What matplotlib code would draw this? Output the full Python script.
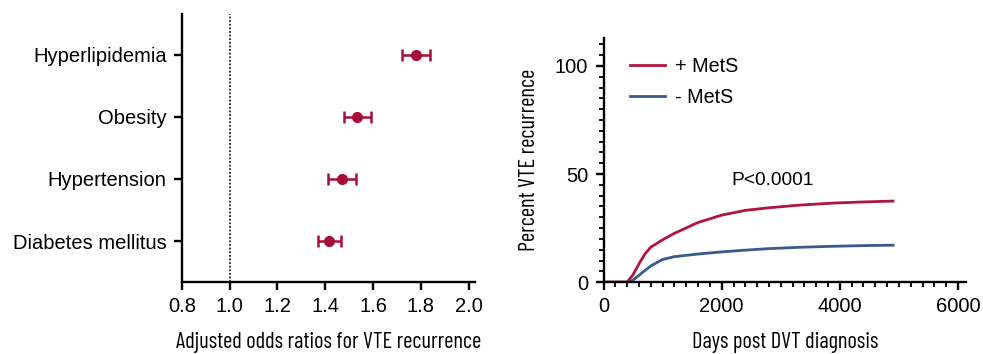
import matplotlib.pyplot as plt
from matplotlib.ticker import MultipleLocator

# Forest plot data (adjusted odds ratios with 95% CI)
factors = ['Diabetes mellitus', 'Hypertension', 'Obesity', 'Hyperlipidemia']
odds = [1.415, 1.47, 1.535, 1.78]
ci_low = [1.37, 1.41, 1.48, 1.72]
ci_high = [1.465, 1.53, 1.59, 1.84]

# Cumulative VTE recurrence curves (days, percent)
days_pos = [0, 400, 500, 600, 700, 800, 1000, 1200, 1600, 2000, 2400, 2800, 3300, 3900, 4400, 4900]
pct_pos = [0, 0, 3.5, 8.5, 13.0, 16.2, 19.6, 22.6, 27.6, 31.0, 33.2, 34.4, 35.6, 36.6, 37.1, 37.5]
days_neg = [0, 450, 550, 650, 800, 1000, 1200, 1600, 2000, 2400, 2800, 3300, 3900, 4400, 4900]
pct_neg = [0, 0, 2.0, 4.3, 7.5, 10.5, 11.8, 13.0, 14.0, 14.8, 15.5, 16.1, 16.6, 16.9, 17.1]

red = '#A80D3A'
red_line = '#B0153F'
blue = '#3A5A8C'

plt.rcParams['font.family'] = ['Liberation Sans', 'DejaVu Sans']
label_font = dict(family=['Barlow Condensed', 'Roboto Condensed', 'Archivo Narrow',
                          'Liberation Sans'], fontsize=16.2)

fig = plt.figure(figsize=(9.83, 3.54), dpi=100)
ax1 = fig.add_axes([0.185, 0.203, 0.298, 0.757])
ax2 = fig.add_axes([0.614, 0.203, 0.369, 0.690])

# --- left: odds ratios ---
ypos = list(range(1, len(factors) + 1))
xerr = [[o - l for o, l in zip(odds, ci_low)], [h - o for o, h in zip(odds, ci_high)]]
ax1.errorbar(odds, ypos, xerr=xerr, fmt='o', color=red, ecolor=red,
             markersize=7, elinewidth=1.8, capsize=4, capthick=1.8)
ax1.axvline(1.0, color='#222222', linestyle=(0, (1, 1)), linewidth=1.3)
ax1.set_xlim(0.8, 2.026)
ax1.set_ylim(0.34, 4.65)
ax1.set_xticks([0.8, 1.0, 1.2, 1.4, 1.6, 1.8, 2.0])
ax1.set_yticks(ypos)
ax1.set_yticklabels(factors)
ax1.set_xlabel('Adjusted odds ratios for VTE recurrence', labelpad=11, **label_font)

# --- right: recurrence curves ---
ax2.plot(days_pos, pct_pos, color=red_line, linewidth=2, label='+ MetS')
ax2.plot(days_neg, pct_neg, color=blue, linewidth=2, label='- MetS')
ax2.set_xlim(0, 6140)
ax2.set_ylim(0, 113)
ax2.set_xticks([0, 2000, 4000, 6000])
ax2.set_yticks([0, 50, 100])
ax2.xaxis.set_minor_locator(MultipleLocator(200))
ax2.yaxis.set_minor_locator(MultipleLocator(5))
ax2.text(2170, 47, 'P<0.0001', fontsize=13.8, va='center')
ax2.set_xlabel('Days post DVT diagnosis', labelpad=11, **label_font)
ax2.set_ylabel('Percent VTE recurrence', labelpad=11, **label_font)
ax2.legend(loc='upper left', frameon=False, fontsize=14.2, handlelength=1.8,
           handletextpad=0.5, borderaxespad=0.2, bbox_to_anchor=(0.04, 0.97),
           labelspacing=0.6)

for ax in (ax1, ax2):
    for side in ('top', 'right'):
        ax.spines[side].set_visible(False)
    for side in ('left', 'bottom'):
        ax.spines[side].set_linewidth(1.7)
    ax.tick_params(which='major', length=6, width=1.7, labelsize=14.5, pad=5)
    ax.tick_params(which='minor', length=3.5, width=1.3)

fig.savefig('out.png', dpi=100)
